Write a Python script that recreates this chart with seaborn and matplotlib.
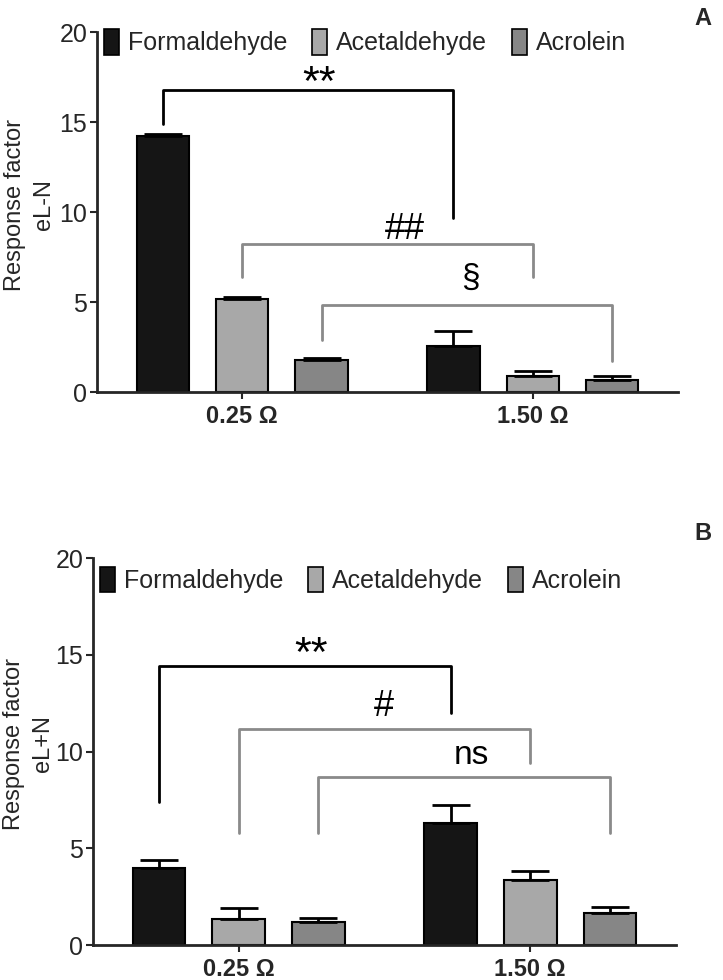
import numpy as np
import pandas as pd
import matplotlib
matplotlib.use("Agg")
import matplotlib.pyplot as plt
from matplotlib.patches import Patch
import seaborn as sns

sns.set_style("ticks")
plt.rcParams["font.family"] = ["Liberation Sans", "DejaVu Sans"]

# categories
groups = ["0.25 Ω", "1.50 Ω"]
compounds = ["Formaldehyde", "Acetaldehyde", "Acrolein"]
colors = ["#151515", "#a8a8a8", "#868686"]

# panel A (eL-N): means and upper error per compound, one value per group
a_form = [14.2, 2.55]
a_acet = [5.17, 0.9]
a_acro = [1.8, 0.65]
a_form_err = [0.12, 0.85]
a_acet_err = [0.13, 0.25]
a_acro_err = [0.07, 0.25]

# panel B (eL+N)
b_form = [3.98, 6.32]
b_acet = [1.35, 3.36]
b_acro = [1.2, 1.65]
b_form_err = [0.42, 0.91]
b_acet_err = [0.58, 0.46]
b_acro_err = [0.18, 0.33]

# significance brackets: compound index, top, left leg end, right leg end, label, label x, label y, size
a_brackets = [(0, 16.8, 14.9, 9.65, "**", 0.265, 17.1, 31),
              (1, 8.2, 6.4, 6.4, "##", 0.56, 9.05, 26),
              (2, 4.83, 2.9, 1.7, "§", 0.786, 6.3, 24)]
b_brackets = [(0, 14.4, 7.4, 12.0, "**", 0.248, 15.0, 31),
              (1, 11.15, 5.8, 9.4, "#", 0.497, 12.3, 26),
              (2, 8.7, 5.8, 5.8, "ns", 0.797, 9.8, 24)]
bracket_colors = ["black", "#8a8a8a", "#8a8a8a"]


def make_panel(ax, means, errs, brackets, ylabel, leg_y):
    df = pd.DataFrame({
        "group": groups * 3,
        "compound": np.repeat(compounds, 2),
        "value": np.concatenate(means),
    })
    sns.barplot(data=df, x="group", y="value", hue="compound", hue_order=compounds,
                palette=colors, errorbar=None, width=0.82, gap=0.34,
                edgecolor="black", linewidth=1.5, legend=False, ax=ax, saturation=1)

    #one-sided error bars on top of each bar
    for cont, err in zip(ax.containers, errs):
        for bar, e in zip(cont, err):
            x = bar.get_x() + bar.get_width() / 2
            ax.errorbar(x, bar.get_height(), yerr=[[0], [e]], color="black",
                        elinewidth=2, capsize=14, capthick=2, zorder=1)

    #brackets between the two groups
    for (ci, top, l_end, r_end, lab, tx, ty, fs), col in zip(brackets, bracket_colors):
        bars = ax.containers[ci]
        x0 = bars[0].get_x() + bars[0].get_width() / 2
        x1 = bars[1].get_x() + bars[1].get_width() / 2
        ax.plot([x0, x0, x1, x1], [l_end, top, top, r_end], color=col, lw=2, zorder=3)
        ax.text(tx, ty, lab, ha="center", va="center", fontsize=fs, color="black")

    ax.set_ylim(0, 20)
    ax.set_xlim(-0.5, 1.5)
    ax.set_yticks([0, 5, 10, 15, 20])
    ax.set_xlabel("")
    ax.set_ylabel(ylabel, fontsize=17, linespacing=1.4)
    ax.tick_params(axis="y", labelsize=18, length=5, width=1.5, pad=2)
    ax.tick_params(axis="x", labelsize=17, length=5, width=1.5, pad=4)
    for t in ax.get_xticklabels():
        t.set_fontweight("bold")
    sns.despine(ax=ax)
    for s in ["left", "bottom"]:
        ax.spines[s].set_linewidth(2)

    handles = [Patch(facecolor=c, edgecolor="black", linewidth=1.2) for c in colors]
    ax.legend(handles, compounds, loc="upper left", bbox_to_anchor=(0.012, leg_y),
              ncol=3, frameon=False, fontsize=18, handlelength=0.6, handleheight=1.2,
              handletextpad=0.35, columnspacing=1.0, borderpad=0, borderaxespad=0)


fig = plt.figure(figsize=(7.23, 9.8), dpi=100)
fig.patch.set_facecolor("white")
axA = fig.add_axes([97 / 723, 1 - 392 / 980, 581 / 723, 360 / 980])
axB = fig.add_axes([93 / 723, 1 - 945 / 980, 583 / 723, 387 / 980])

make_panel(axA, [a_form, a_acet, a_acro], [a_form_err, a_acet_err, a_acro_err],
           a_brackets, "Response factor\neL-N", 1.008)
make_panel(axB, [b_form, b_acet, b_acro], [b_form_err, b_acet_err, b_acro_err],
           b_brackets, "Response factor\neL+N", 0.978)

# y labels: right edge of the second line just left of the tick labels
axA.yaxis.set_label_coords((55 - 97) / 581, 0.52)
axB.yaxis.set_label_coords((54 - 93) / 583, 0.52)

# panel letters
fig.text(703 / 723, 1 - 25 / 980, "A", fontsize=17, fontweight="bold", ha="center", va="baseline")
fig.text(703 / 723, 1 - 540 / 980, "B", fontsize=17, fontweight="bold", ha="center", va="baseline")

fig.savefig("out.png", dpi=100)
